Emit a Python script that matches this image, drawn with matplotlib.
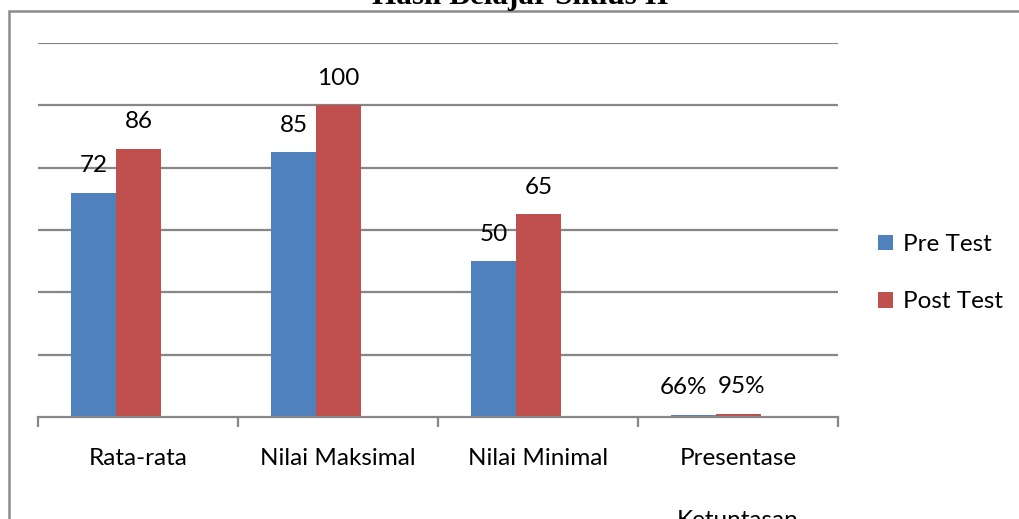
import matplotlib
matplotlib.use("Agg")
import matplotlib.pyplot as plt
import numpy as np
from matplotlib.patches import Rectangle

categories = ["Rata-rata", "Nilai Maksimal", "Nilai Minimal", "Presentase\nKetuntasan"]
pre_test = [72, 85, 50, 0.66]
post_test = [86, 100, 65, 0.95]
pre_labels = ["72", "85", "50", "66%"]
post_labels = ["86", "100", "65", "95%"]
series_names = ["Pre Test", "Post Test"]
title = "Hasil Belajar Siklus II"

W, H = 1019, 519
fig = plt.figure(figsize=(W / 100, H / 100), dpi=100)
fig.patch.set_facecolor("white")

font = "Lato"
fs = 17.5
grid_c = "#878787"

ax = fig.add_axes([38 / W, (H - 417) / H, 800 / W, (417 - 43) / H])
x = np.arange(len(categories))
bw = 0.225
shift = -0.11
b1 = ax.bar(x + shift - bw / 2, pre_test, bw, color="#4F81BD", label=series_names[0], zorder=3)
b2 = ax.bar(x + shift + bw / 2, post_test, bw, color="#C0504D", label=series_names[1], zorder=3)

ax.set_xlim(-0.5, len(categories) - 0.5)
ax.set_ylim(0, 120)
ax.set_yticks(np.arange(20, 121, 20))
ax.yaxis.grid(True, color=grid_c, linewidth=1.6, zorder=0)
ax.tick_params(axis="y", left=False, labelleft=False)
for s in ["top", "right", "left"]:
    ax.spines[s].set_visible(False)
ax.spines["bottom"].set_color(grid_c)
ax.spines["bottom"].set_linewidth(1.6)
ax.spines["bottom"].set_zorder(4)

ax.set_xticks(np.arange(len(categories) + 1) - 0.5)
ax.set_xticklabels([])
ax.tick_params(axis="x", which="major", length=7.5, width=1.6, color=grid_c, direction="out")
ax.set_xticks(x, minor=True)
ax.set_xticklabels(categories, minor=True, fontfamily=font, fontsize=fs, linespacing=3.4)
ax.tick_params(axis="x", which="minor", length=0, pad=22.5)

# small horizontal nudges so the crowded labels of the last group do not touch
dx_pre = [0, 0, 0, -7]
dx_post = [0, 0, 0, 2]
for bars, labels, dxs in [(b1, pre_labels, dx_pre), (b2, post_labels, dx_post)]:
    for rect, lab, dx in zip(bars, labels, dxs):
        ax.annotate(lab, (rect.get_x() + rect.get_width() / 2, rect.get_height()),
                    xytext=(dx, 19.5), textcoords="offset points", ha="center", va="center",
                    fontfamily=font, fontsize=fs)

leg = fig.legend(handles=[b1, b2], loc="upper left", bbox_to_anchor=(878 / W, (H - 234) / H),
                 frameon=False, prop={"family": font, "size": fs},
                 handlelength=0.62, handleheight=0.62, handletextpad=0.4, labelspacing=1.5,
                 borderaxespad=0, borderpad=0)

fig.patches.append(Rectangle((9 / W, -0.1), 1.2, (H - 11) / H + 0.1, transform=fig.transFigure,
                             fill=False, edgecolor="#8a8a8a", linewidth=1.8, clip_on=False))

fig.text(520 / W, (H - 4) / H, title, ha="center", va="baseline", fontfamily="Liberation Serif",
         fontweight="bold", fontsize=22.5)

fig.savefig("out.png", dpi=100)
